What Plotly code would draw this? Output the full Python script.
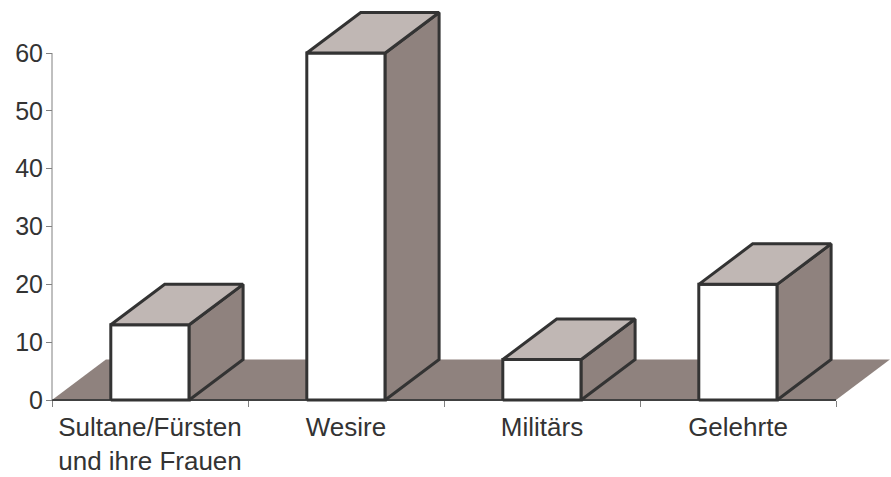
import plotly.graph_objects as go

categories = ["Sultane/Fürsten<br>und ihre Frauen", "Wesire", "Militärs", "Gelehrte"]
values = [13, 60, 7, 20]
y_ticks = [0, 10, 20, 30, 40, 50, 60]

# 3D look parameters (in data units)
half_w = 0.2
dx = 0.275
dy = 7.0

FLOOR = "#8F827E"
TOP = "#C0B7B4"
SIDE = "#8F827E"
EDGE = "#333333"

fig = go.Figure()

n = len(categories)
# floor
fig.add_trace(go.Scatter(
    x=[-0.5, n - 0.5, n - 0.5 + dx, -0.5 + dx, -0.5],
    y=[0, 0, dy, dy, 0],
    fill="toself", fillcolor=FLOOR, mode="lines",
    line=dict(width=0, color=FLOOR), hoverinfo="skip", showlegend=False))
# front floor edge (x axis line)
fig.add_trace(go.Scatter(
    x=[-0.5, n - 0.5], y=[0, 0], mode="lines",
    line=dict(width=2, color="#404040"), hoverinfo="skip", showlegend=False))
# y axis line
fig.add_trace(go.Scatter(
    x=[-0.5, -0.5], y=[0, max(y_ticks)], mode="lines",
    line=dict(width=1, color="#808080"), hoverinfo="skip", showlegend=False))

front_x, front_y, top_x, top_y, side_x, side_y = [], [], [], [], [], []
for i, v in enumerate(values):
    l, r = i - half_w, i + half_w
    front_x += [l, r, r, l, l, None]
    front_y += [0, 0, v, v, 0, None]
    top_x += [l, r, r + dx, l + dx, l, None]
    top_y += [v, v, v + dy, v + dy, v, None]
    side_x += [r, r + dx, r + dx, r, r, None]
    side_y += [0, dy, v + dy, v, 0, None]

for xs, ys, col in [(front_x, front_y, "white"), (side_x, side_y, SIDE), (top_x, top_y, TOP)]:
    fig.add_trace(go.Scatter(
        x=xs, y=ys, fill="toself", fillcolor=col, mode="lines",
        line=dict(width=3, color=EDGE), hoverinfo="skip", showlegend=False))

W, H = 891, 477
ml, mr, mt, mb = 48, 0, 5, 74
plot_w = W - ml - mr
plot_h = H - mt - mb
px_per_cat = 196.0
px_per_unit = 5.783
x0 = -0.5 - 4 / px_per_cat
x1 = x0 + plot_w / px_per_cat
y0 = -3 / px_per_unit
y1 = y0 + plot_h / px_per_unit

fig.update_layout(
    width=W, height=H,
    margin=dict(l=ml, r=mr, t=mt, b=mb, autoexpand=False),
    paper_bgcolor="white", plot_bgcolor="white",
    font=dict(family="Liberation Sans, Arial, sans-serif", color="#333333"),
    xaxis=dict(
        range=[x0, x1], showgrid=False, zeroline=False, showline=False,
        automargin=False, fixedrange=True,
        tickmode="array", tickvals=list(range(n)), ticktext=categories,
        ticks="", tickfont=dict(size=26, color="#333333"),
        ticklabelstandoff=9,
        anchor="free", position=3 / plot_h,
        minor=dict(tickmode="array", tickvals=[i - 0.5 for i in range(n + 1)],
                   ticks="outside", ticklen=6, tickcolor="#808080", tickwidth=1),
    ),
    yaxis=dict(
        range=[y0, y1], showgrid=False, zeroline=False, showline=False,
        automargin=False, fixedrange=True,
        tickmode="array", tickvals=y_ticks,
        ticks="outside", ticklen=6, tickcolor="#808080", tickwidth=1,
        tickfont=dict(size=25, color="#333333"),
        ticklabelstandoff=-2,
        anchor="free", position=4 / plot_w,
    ),
)

fig.write_html(
    "out.html",
    config={"displayModeBar": False},
    post_script="document.body.style.margin='0';document.body.style.padding='0';document.body.style.overflow='hidden';",
)
